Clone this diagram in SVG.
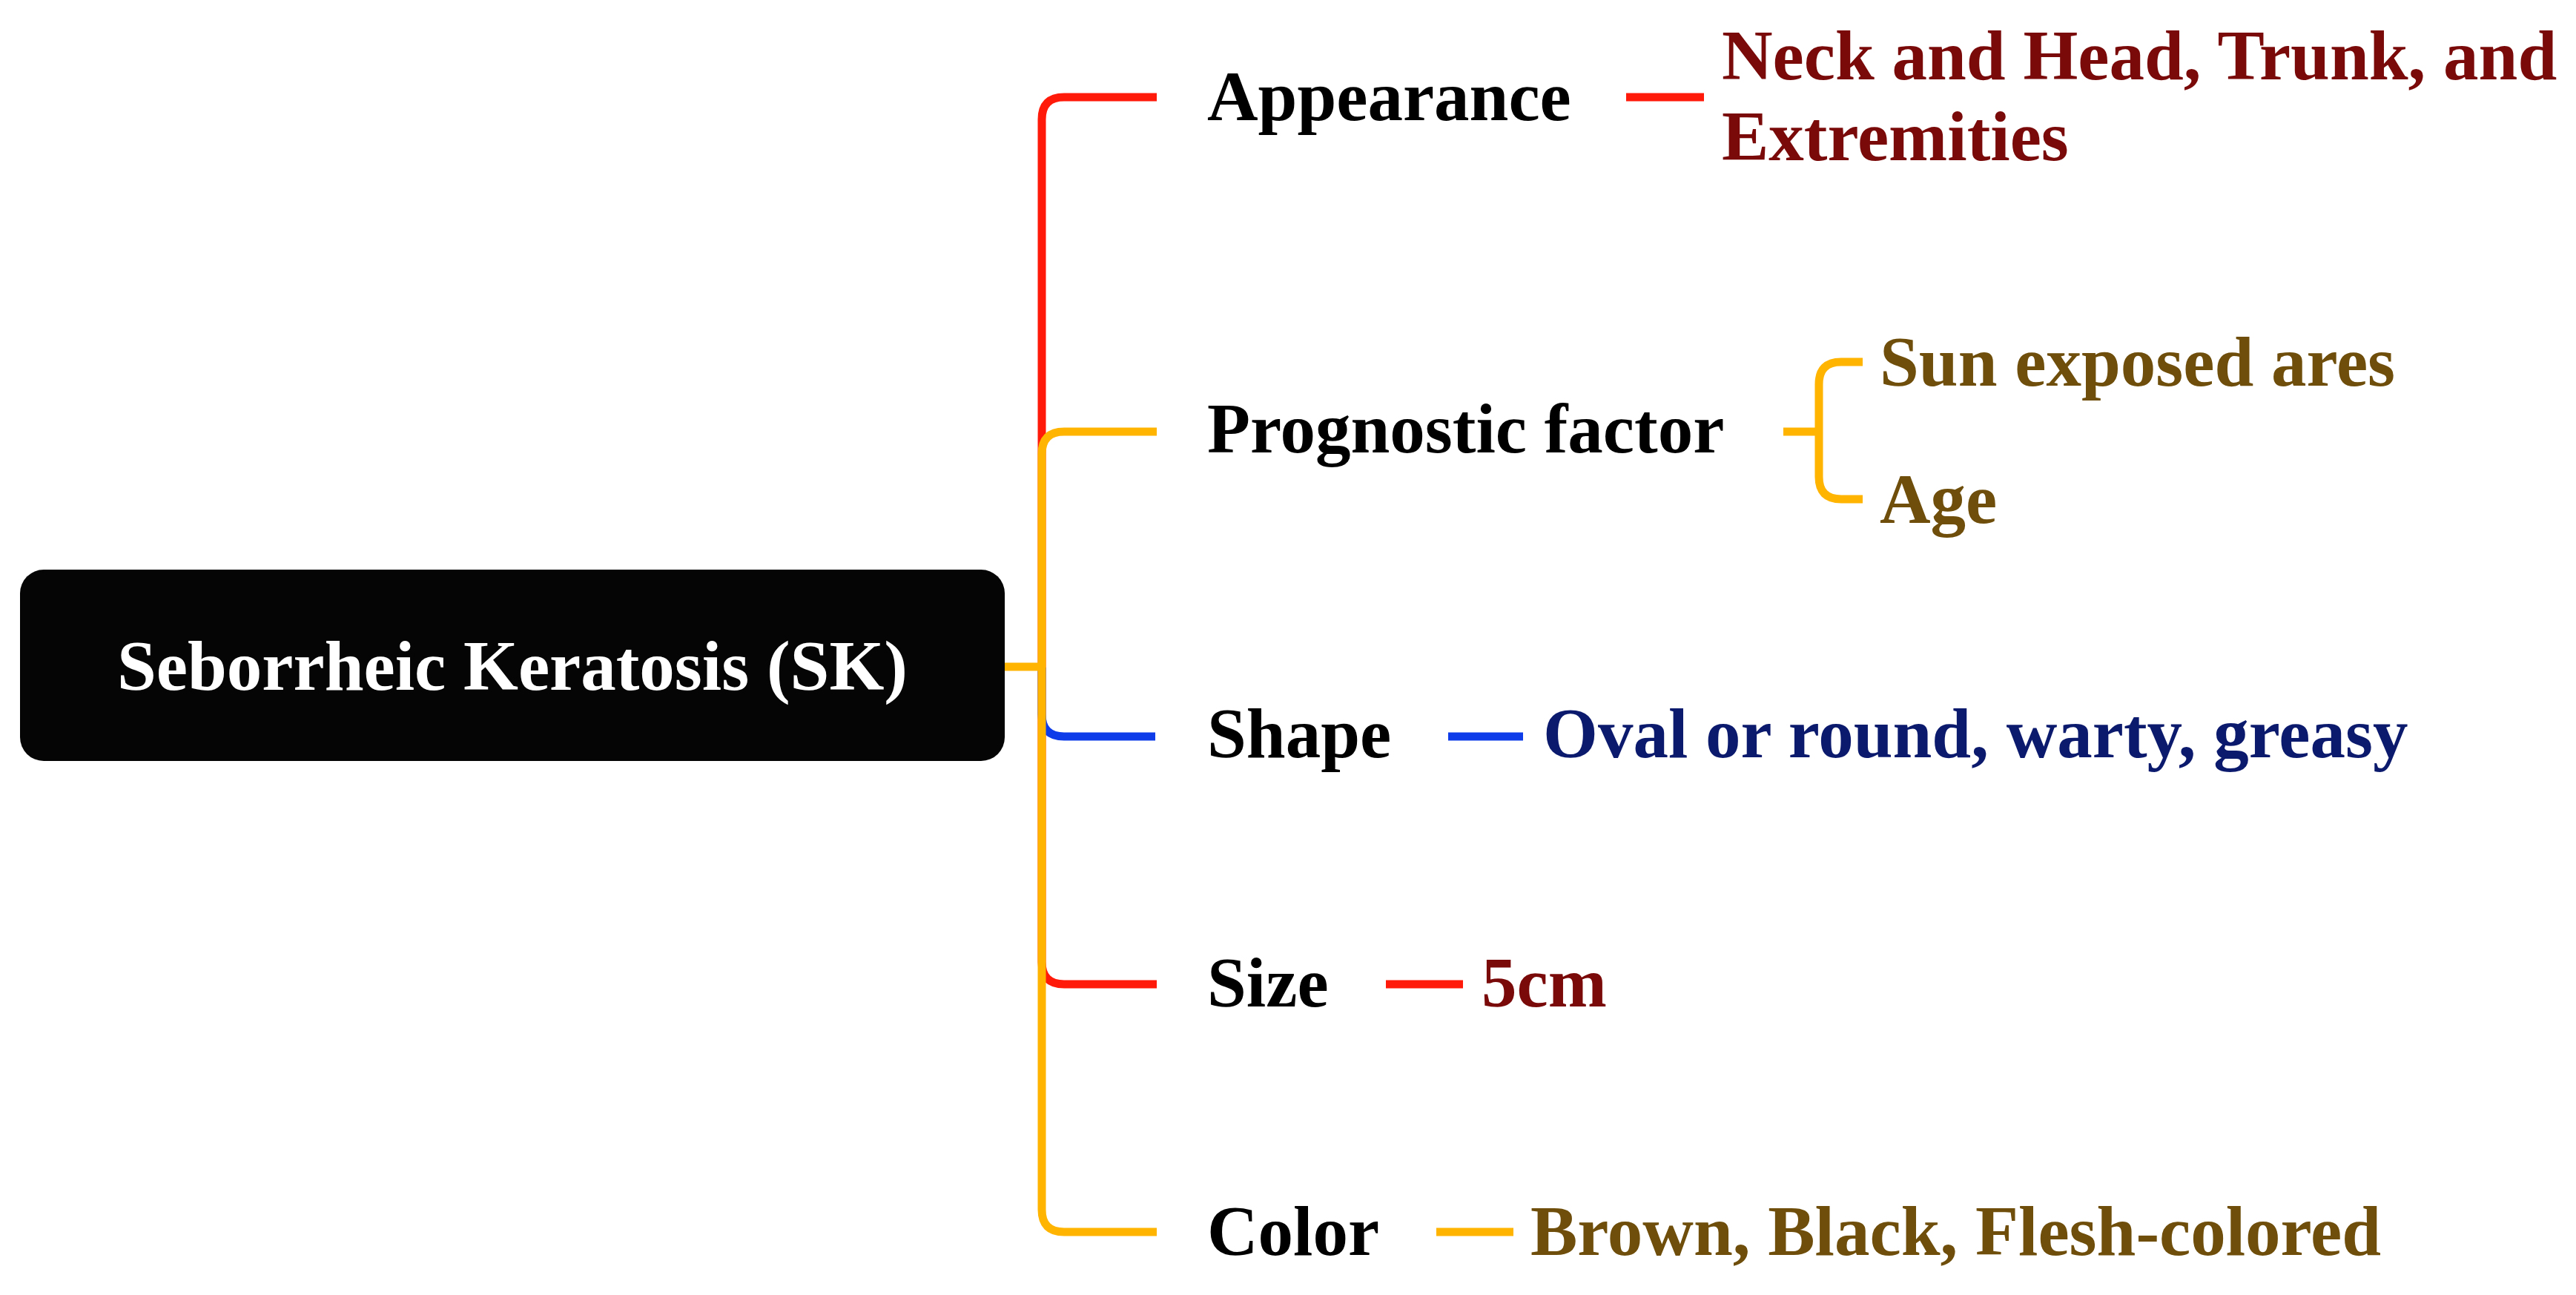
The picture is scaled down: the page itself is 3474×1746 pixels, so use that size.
<svg xmlns="http://www.w3.org/2000/svg" width="3474" height="1746" viewBox="0 0 3474 1746">
<style>
.t{font-family:"Liberation Serif","Times New Roman",serif;font-weight:bold;font-size:95px}
.k{fill:#000}
.dr{fill:#7a0a0a}
.nv{fill:#0c1a6e}
.br{fill:#6e4e0a}
.c{fill:none;stroke-width:11;stroke-linecap:butt;stroke-linejoin:round}
.red{stroke:#ff1a0a}
.org{stroke:#ffb400}
.blu{stroke:#0d3ce8}
</style>
<rect width="3474" height="1746" fill="#fff"/>
<g id="connectors">
<path class="c red" d="M1405,900 V161 Q1405,131 1435,131 H1560"/>
<path class="c red" d="M1405,900 V1297 Q1405,1327 1435,1327 H1560"/>
<path class="c blu" d="M1405,900 V963 Q1405,993 1435,993 H1558"/>
<path class="c org" d="M1405,900 V612 Q1405,582 1435,582 H1560"/>
<path class="c org" d="M1405,900 V1631 Q1405,1661 1435,1661 H1560"/>
<path class="c org" d="M1355,899 H1405"/>
<path class="c red" d="M2193,131 H2298"/>
<path class="c org" d="M2405,582 H2453"/>
<path class="c org" d="M2512,488 H2483 Q2453,488 2453,518 V643 Q2453,673 2483,673 H2512"/>
<path class="c blu" d="M1953,993 H2054"/>
<path class="c red" d="M1869,1327 H1973"/>
<path class="c org" d="M1937,1661 H2041"/>
</g>
<g id="root">
<rect x="27" y="768" width="1328" height="258" rx="32" fill="#050505"/>
<text class="t" x="691" y="930" fill="#fff" text-anchor="middle">Seborrheic Keratosis (SK)</text>
</g>
<g id="appearance"><text class="t k" x="1628" y="162">Appearance</text></g>
<g id="appearance-value"><text class="t dr" x="2322" y="107">Neck and Head, Trunk, and</text><text class="t dr" x="2322" y="216">Extremities</text></g>
<g id="prognostic"><text class="t k" x="1628" y="610">Prognostic factor</text></g>
<g id="sun"><text class="t br" x="2535" y="520">Sun exposed ares</text></g>
<g id="age"><text class="t br" x="2535" y="705">Age</text></g>
<g id="shape"><text class="t k" x="1628" y="1021">Shape</text></g>
<g id="shape-value"><text class="t nv" x="2081" y="1021">Oval or round, warty, greasy</text></g>
<g id="size"><text class="t k" x="1628" y="1357">Size</text></g>
<g id="size-value"><text class="t dr" x="1998" y="1357">5cm</text></g>
<g id="color"><text class="t k" x="1628" y="1692">Color</text></g>
<g id="color-value"><text class="t br" x="2064" y="1692">Brown, Black, Flesh-colored</text></g>
</svg>
